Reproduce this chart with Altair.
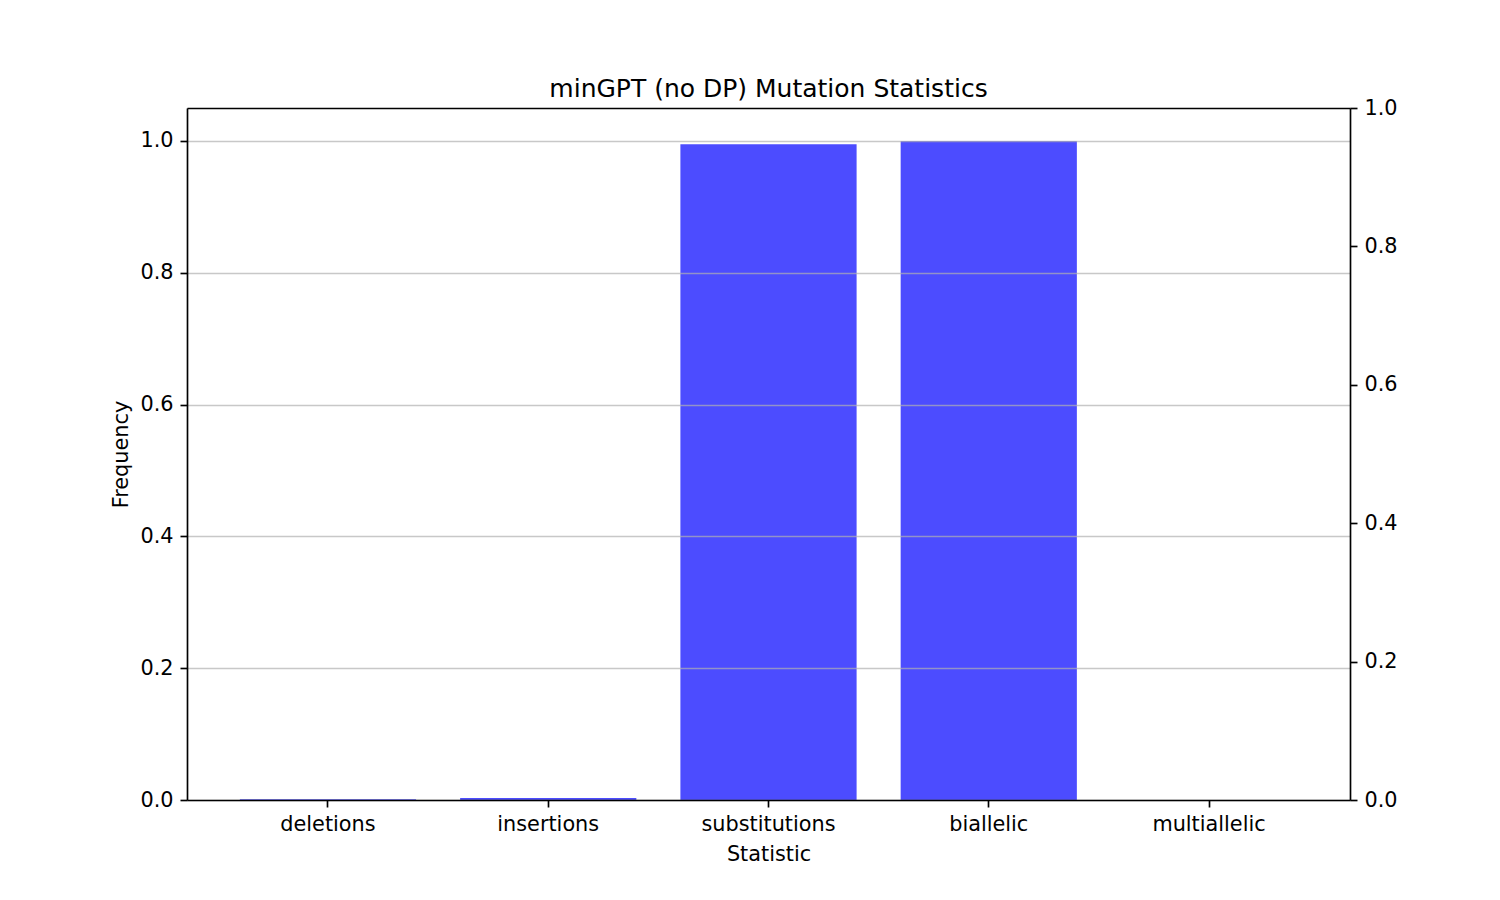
import altair as alt
import pandas as pd

categories = ["deletions", "insertions", "substitutions", "biallelic", "multiallelic"]
frequencies = [0.0012, 0.003, 0.995, 1.0, 0.0]

df = pd.DataFrame({"Statistic": categories, "Frequency": frequencies})

FONT = "DejaVu Sans"
FS = 20.8
LW = 1.67

x_enc = alt.X(
    "Statistic:N",
    sort=categories,
    scale=alt.Scale(paddingInner=0.2, paddingOuter=0.24),
    axis=alt.Axis(
        title="Statistic", labelAngle=0, labelFontSize=FS, titleFontSize=FS,
        labelFont=FONT, titleFont=FONT, labelColor="black", titleColor="black",
        tickColor="black", tickSize=7, tickWidth=LW, domainColor="black",
        domainWidth=LW, labelPadding=7, titlePadding=11, titleFontWeight="normal",
        grid=False, zindex=2,
    ),
)

bars = alt.Chart(df).mark_bar(color="#0000ff", opacity=0.7).encode(
    x=x_enc,
    y=alt.Y(
        "Frequency:Q",
        scale=alt.Scale(domain=[0, 1.05], nice=False, zero=True),
        axis=alt.Axis(
            title="Frequency", values=[0, 0.2, 0.4, 0.6, 0.8, 1.0], format=".1f",
            labelFontSize=FS, titleFontSize=FS, labelFont=FONT, titleFont=FONT,
            labelColor="black", titleColor="black", tickColor="black", tickSize=7,
            tickWidth=LW, domainColor="black", domainWidth=LW, labelPadding=7,
            titlePadding=8, titleFontWeight="normal", grid=True,
            gridColor="#b0b0b0", gridOpacity=0.7, gridWidth=LW, zindex=1,
        ),
    ),
)

right = alt.Chart(df).mark_point(opacity=0).encode(
    x=alt.X(
        "Statistic:N",
        sort=categories,
        axis=alt.Axis(
            orient="top", title=None, labels=False, ticks=False, grid=False,
            domainColor="black", domainWidth=LW, zindex=2,
        ),
    ),
    y=alt.Y(
        "Frequency:Q",
        scale=alt.Scale(domain=[0, 1.0], nice=False, zero=True),
        axis=alt.Axis(
            orient="right", title=None, values=[0, 0.2, 0.4, 0.6, 0.8, 1.0],
            format=".1f", labelFontSize=FS, labelFont=FONT, labelColor="black",
            tickColor="black", tickSize=7, tickWidth=LW, domainColor="black",
            domainWidth=LW, labelPadding=7, grid=False, zindex=2,
        ),
    ),
)

chart = (
    alt.layer(bars, right)
    .resolve_scale(y="independent")
    .resolve_axis(x="independent")
    .properties(
        width=1163,
        height=692,
        title=alt.TitleParams(
            "minGPT (no DP) Mutation Statistics", fontSize=25, font=FONT,
            fontWeight="normal", color="black", anchor="middle", offset=-5,
        ),
        autosize=alt.AutoSizeParams(type="none"),
        padding={"left": 179, "top": 100, "right": 142, "bottom": 92},
    )
    .configure_view(stroke="black", strokeWidth=LW)
    .configure(background="white")
)

chart.save("out.html", embed_options={"renderer": "svg", "actions": False})
